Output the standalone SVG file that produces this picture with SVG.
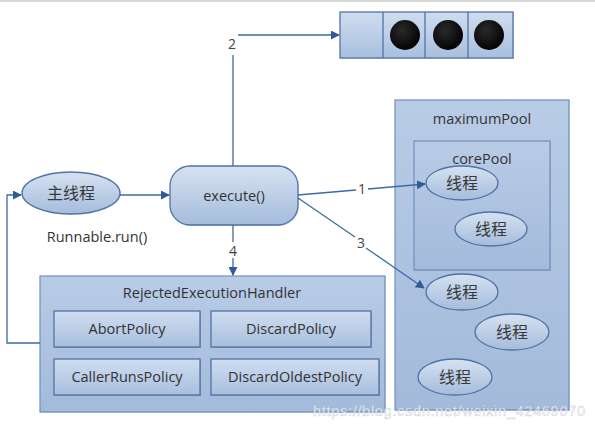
<svg xmlns="http://www.w3.org/2000/svg" width="595" height="430" viewBox="0 0 595 430">
<defs>
<linearGradient id="gNode" x1="0" y1="0" x2="0" y2="1">
<stop offset="0" stop-color="#d6e2f1"/>
<stop offset="1" stop-color="#a5bcdc"/>
</linearGradient>
<linearGradient id="gBox" x1="0" y1="0" x2="0" y2="1">
<stop offset="0" stop-color="#b9cce6"/>
<stop offset="1" stop-color="#a3badb"/>
</linearGradient>
<linearGradient id="gPol" x1="0" y1="0" x2="0" y2="1">
<stop offset="0" stop-color="#d0ddef"/>
<stop offset="1" stop-color="#a8bfde"/>
</linearGradient>
<radialGradient id="gBall" cx="0.4" cy="0.35" r="0.7">
<stop offset="0" stop-color="#2a2a2a"/>
<stop offset="1" stop-color="#000"/>
</radialGradient>
<marker id="arr" viewBox="0 0 10 10" refX="9" refY="5" markerWidth="9" markerHeight="9" markerUnits="userSpaceOnUse" orient="auto">
<path d="M0,0 L10,5 L0,10 z" fill="#2f5a94"/>
</marker>
</defs>
<style>
.node{fill:url(#gNode);stroke:#4f73a6;stroke-width:1.3}
.box{fill:url(#gBox);stroke:#6f8fbd;stroke-width:1.2}
.pol{fill:url(#gPol);stroke:#4f73a6;stroke-width:1.3}
.t{font-family:"Open Sans","Liberation Sans",sans-serif;font-size:14.5px;fill:#333;text-anchor:middle}
.cn{font-family:"Noto Sans CJK SC",sans-serif;font-size:16px;fill:#3a3a3a;text-anchor:middle}
.lbl{font-family:"Open Sans","Liberation Sans",sans-serif;font-size:14px;fill:#444;text-anchor:middle}
.ln{fill:none;stroke:#3d6aa5;stroke-width:1.3}
</style>
<rect x="0" y="0" width="595" height="430" fill="#fff"/>
<rect x="0" y="0" width="595" height="2" fill="#d8d8d8"/>

<g id="queue">
<rect x="341" y="13" width="173" height="46" fill="#000" fill-opacity="0.15"/>
<rect x="340" y="12" width="173" height="46" class="pol"/>
<line x1="383" y1="12" x2="383" y2="58" stroke="#4f73a6" stroke-width="1.3"/>
<line x1="425" y1="12" x2="425" y2="58" stroke="#4f73a6" stroke-width="1.3"/>
<line x1="468" y1="12" x2="468" y2="58" stroke="#4f73a6" stroke-width="1.3"/>
<circle cx="405" cy="35" r="15" fill="url(#gBall)"/>
<circle cx="448" cy="35" r="15" fill="url(#gBall)"/>
<circle cx="489" cy="35" r="15" fill="url(#gBall)"/>
</g>

<g id="maximumPool">
<rect x="396" y="101" width="174" height="310" fill="#000" fill-opacity="0.12"/>
<rect x="395" y="100" width="174" height="310" class="box"/>
<text x="482" y="124" class="t">maximumPool</text>
</g>
<g id="corePool">
<rect x="415" y="142" width="136" height="129" fill="#000" fill-opacity="0.12"/>
<rect x="414" y="141" width="136" height="129" class="box" stroke="#4f73a6"/>
<text x="482" y="164" class="t">corePool</text>
</g>

<g id="handler">
<rect x="41" y="277" width="345" height="136" fill="#000" fill-opacity="0.12"/>
<rect x="40" y="276" width="345" height="136" class="box"/>
<text x="212" y="298" class="t">RejectedExecutionHandler</text>
</g>
<g id="abort">
<rect x="55" y="312" width="146" height="36" fill="#000" fill-opacity="0.2"/>
<rect x="54" y="311" width="146" height="36" class="pol"/>
<text x="127" y="334" class="t">AbortPolicy</text>
</g>
<g id="discard">
<rect x="212" y="312" width="160" height="36" fill="#000" fill-opacity="0.2"/>
<rect x="211" y="311" width="160" height="36" class="pol"/>
<text x="291" y="334" class="t">DiscardPolicy</text>
</g>
<g id="callerRuns">
<rect x="55" y="360" width="146" height="36" fill="#000" fill-opacity="0.2"/>
<rect x="54" y="359" width="146" height="36" class="pol"/>
<text x="127" y="382" class="t">CallerRunsPolicy</text>
</g>
<g id="discardOldest">
<rect x="212" y="360" width="168" height="36" fill="#000" fill-opacity="0.2"/>
<rect x="211" y="359" width="168" height="36" class="pol"/>
<text x="295" y="382" class="t">DiscardOldestPolicy</text>
</g>

<g id="mainThread">
<ellipse cx="72" cy="194" rx="49" ry="21" fill="#000" fill-opacity="0.15"/>
<ellipse cx="71" cy="193" rx="49" ry="21" class="node"/>
<text x="71" y="199" class="cn">主线程</text>
</g>
<text x="97" y="242" class="t" id="runnableLabel">Runnable.run()</text>

<g id="execute">
<rect x="171" y="167" width="128" height="59" rx="20" fill="#000" fill-opacity="0.15"/>
<rect x="170" y="166" width="128" height="59" rx="20" class="node"/>
<text x="234" y="201" class="t" font-size="16px">execute()</text>
</g>

<g id="thread1">
<ellipse cx="462" cy="183" rx="36" ry="17" class="node"/>
<text x="462" y="189" class="cn">线程</text>
</g>
<g id="thread2">
<ellipse cx="491" cy="229" rx="36" ry="17" class="node"/>
<text x="491" y="235" class="cn">线程</text>
</g>
<g id="thread3">
<ellipse cx="462" cy="292" rx="36" ry="18" class="node"/>
<text x="462" y="298" class="cn">线程</text>
</g>
<g id="thread4">
<ellipse cx="512" cy="332" rx="37" ry="18" class="node"/>
<text x="512" y="338" class="cn">线程</text>
</g>
<g id="thread5">
<ellipse cx="455" cy="377" rx="37" ry="18" class="node"/>
<text x="455" y="383" class="cn">线程</text>
</g>

<g id="connectors">
<line x1="120" y1="195" x2="169" y2="195" class="ln" marker-end="url(#arr)"/>
<polyline points="233,166 233,55" class="ln"/>
<polyline points="238,35 339,35" class="ln" marker-end="url(#arr)"/>
<text x="232" y="49" class="lbl">2</text>
<line x1="298" y1="195" x2="356" y2="190" class="ln"/>
<line x1="368" y1="189" x2="425" y2="184" class="ln" marker-end="url(#arr)"/>
<text x="362" y="194" class="lbl">1</text>
<line x1="298" y1="198" x2="355" y2="237" class="ln"/>
<line x1="366" y1="248" x2="424" y2="288" class="ln" marker-end="url(#arr)"/>
<text x="361" y="248" class="lbl">3</text>
<line x1="233" y1="225" x2="233" y2="242" class="ln"/>
<line x1="233" y1="258" x2="233" y2="275" class="ln" marker-end="url(#arr)"/>
<text x="233" y="256" class="lbl">4</text>
<polyline points="40,343 7,343 7,195 21,195" class="ln" marker-end="url(#arr)"/>
</g>

<text x="313" y="416" font-family="Liberation Sans, sans-serif" font-size="14.5px" fill="#ffffff" stroke="#9aa8bb" stroke-width="0.5" stroke-opacity="0.6" textLength="272" opacity="0.9">https://blog.csdn.net/weixin_42469070</text>
</svg>
